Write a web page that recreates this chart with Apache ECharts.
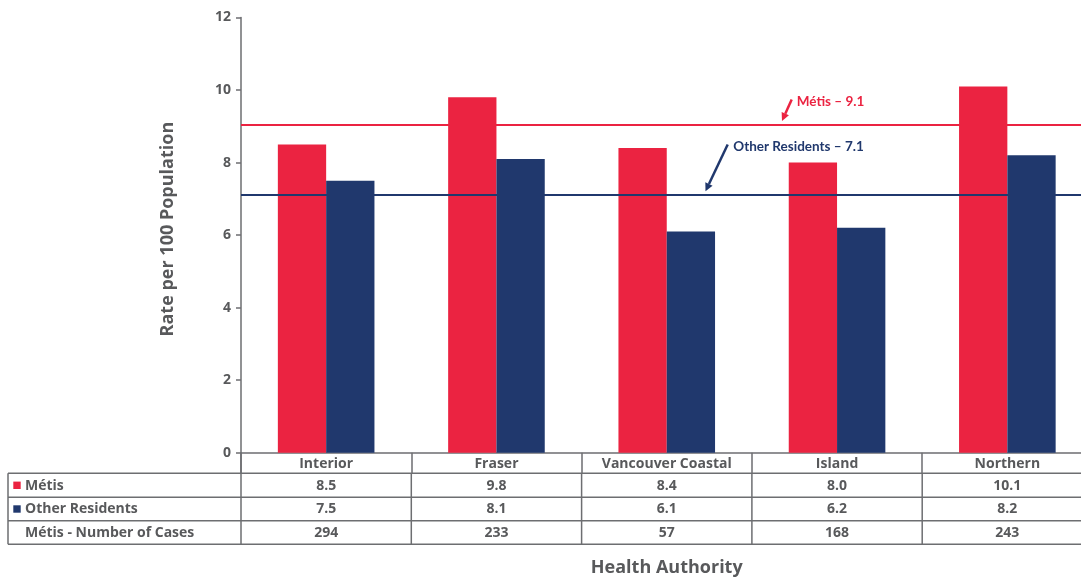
<!DOCTYPE html>
<html>
<head>
<meta charset="utf-8">
<script src="https://cdn.jsdelivr.net/npm/echarts@6/dist/echarts.min.js"></script>
<style>html,body{margin:0;padding:0;background:#fff;}#c{width:1081px;height:578px;}</style>
</head>
<body>
<div id="c"></div>
<script>
// ---- data ----
var categories = ['Interior', 'Fraser', 'Vancouver Coastal', 'Island', 'Northern'];
var metis = [8.5, 9.8, 8.4, 8.0, 10.1];
var others = [7.5, 8.1, 6.1, 6.2, 8.2];
var metisCases = [294, 233, 57, 168, 243];
var seriesNames = ['Métis', 'Other Residents'];
var tableRowNames = ['Métis', 'Other Residents', 'Métis - Number of Cases'];
var averages = [9.05, 7.1];
var averageLabels = ['Métis – 9.1', 'Other Residents – 7.1'];
var yTicks = [0, 2, 4, 6, 8, 10, 12];

// ---- style ----
var RED = '#EB2341';
var NAVY = '#20386D';
var GRAY = '#58595B';
var LINE = '#6D6E71';
var FONT = '"Open Sans", "DejaVu Sans", sans-serif';

var chart = echarts.init(document.getElementById('c'), null, {renderer: 'canvas'});

var option = {
  animation: false,
  backgroundColor: '#fff',
  grid: {left: 241, top: 17.5, height: 435.2, width: 851.5, containLabel: false, outerBoundsMode: 'none'},
  xAxis: {
    type: 'category',
    data: categories,
    axisLine: {lineStyle: {color: LINE, width: 1.5}},
    axisTick: {show: true, length: 20.5, lineStyle: {color: LINE, width: 1.5}},
    axisLabel: {color: GRAY, fontFamily: FONT, fontWeight: 'bold', fontSize: 14, margin: 4.5},
    name: 'Health Authority',
    nameLocation: 'middle',
    nameGap: 106,
    nameTextStyle: {color: GRAY, fontFamily: FONT, fontWeight: 'bold', fontSize: 18}
  },
  yAxis: {
    type: 'value',
    min: yTicks[0], max: yTicks[yTicks.length - 1], interval: 2,
    splitLine: {show: false},
    axisLine: {show: true, lineStyle: {color: LINE, width: 1.5}},
    axisTick: {show: true, length: 5, lineStyle: {color: LINE, width: 1.5}},
    axisLabel: {color: GRAY, fontFamily: FONT, fontWeight: 'bold', fontSize: 14, margin: 10},
    name: 'Rate per 100 Population',
    nameLocation: 'middle',
    nameRotate: 90,
    nameGap: 64,
    nameTextStyle: {color: GRAY, fontFamily: FONT, fontWeight: 'bold', fontSize: 18, padding: [0, 0, 0, 12]}
  },
  series: [
    {
      name: seriesNames[0], type: 'bar', data: metis, barWidth: 48.3, barGap: '0%',
      itemStyle: {color: RED},
      markLine: {
        silent: true, symbol: 'none', label: {show: false},
        lineStyle: {color: RED, width: 2, type: 'solid'},
        data: [{yAxis: averages[0]}]
      }
    },
    {
      name: seriesNames[1], type: 'bar', data: others, barWidth: 48.3, barGap: '0%',
      itemStyle: {color: NAVY},
      markLine: {
        silent: true, symbol: 'none', label: {show: false},
        lineStyle: {color: NAVY, width: 2, type: 'solid'},
        data: [{yAxis: averages[1]}]
      }
    }
  ]
};
chart.setOption(option);

function arrow(x1, y1, x2, y2, color) {
  var dx = x2 - x1, dy = y2 - y1, L = Math.sqrt(dx * dx + dy * dy);
  var ux = dx / L, uy = dy / L, px = -uy, py = ux;
  var hl = 8, hw = 4;
  var bx = x2 - ux * hl, by = y2 - uy * hl;
  return [
    {type: 'line', shape: {x1: x1, y1: y1, x2: bx, y2: by}, style: {stroke: color, lineWidth: 2.5}, z: 10},
    {type: 'polygon', shape: {points: [[x2, y2], [bx + px * hw, by + py * hw], [bx - px * hw, by - py * hw]]}, style: {fill: color}, z: 10}
  ];
}

function buildGraphics() {
  var g = [];
  var c0 = chart.convertToPixel({xAxisIndex: 0}, 0);
  var c1 = chart.convertToPixel({xAxisIndex: 0}, 1);
  var band = c1 - c0;
  var yAxisX = 241;
  var axisY = chart.convertToPixel({yAxisIndex: 0}, 0);
  var rowLines = [473.3, 497.3, 520.7, 544.3];
  var tableLeft = 8;
  var rightEnd = 1081;
  var textStyle = {fill: GRAY, font: 'bold 14px ' + FONT, textAlign: 'center', textVerticalAlign: 'middle'};
  rowLines.forEach(function (y) {
    g.push({type: 'line', shape: {x1: tableLeft, y1: y, x2: rightEnd, y2: y}, style: {stroke: LINE, lineWidth: 1.5}, z: 5});
  });
  g.push({type: 'line', shape: {x1: tableLeft, y1: rowLines[0], x2: tableLeft, y2: rowLines[3]}, style: {stroke: LINE, lineWidth: 1.5}, z: 5});
  g.push({type: 'line', shape: {x1: yAxisX, y1: axisY, x2: yAxisX, y2: rowLines[3]}, style: {stroke: LINE, lineWidth: 1.5}, z: 5});
  for (var i = 0; i < categories.length; i++) {
    var cx = chart.convertToPixel({xAxisIndex: 0}, i);
    var bx = cx + band / 2;
    g.push({type: 'line', shape: {x1: bx, y1: rowLines[0], x2: bx, y2: rowLines[3]}, style: {stroke: LINE, lineWidth: 1.5}, z: 5});
    var rows = [metis[i].toFixed(1), others[i].toFixed(1), String(metisCases[i])];
    for (var r = 0; r < 3; r++) {
      g.push({type: 'text', style: Object.assign({}, textStyle, {text: rows[r], x: cx, y: (rowLines[r] + rowLines[r + 1]) / 2 + 0.5}), z: 6});
    }
  }
  var colors = [RED, NAVY, null];
  for (var r = 0; r < 3; r++) {
    var ym = (rowLines[r] + rowLines[r + 1]) / 2;
    if (colors[r]) {
      g.push({type: 'rect', shape: {x: 13.3, y: ym - 3.7, width: 7.4, height: 7.4}, style: {fill: colors[r]}, z: 6});
    }
    g.push({type: 'text', style: {text: tableRowNames[r], x: 25, y: ym + 0.5, fill: GRAY, font: 'bold 14px ' + FONT, textAlign: 'left', textVerticalAlign: 'middle'}, z: 6});
  }
  var annFont = 'bold 13.5px Lato, "Open Sans", sans-serif';
  var yM = chart.convertToPixel({yAxisIndex: 0}, averages[0]);
  var yO = chart.convertToPixel({yAxisIndex: 0}, averages[1]);
  g = g.concat(arrow(791.7, yM - 25, 782, yM - 3.5, RED));
  g.push({type: 'text', style: {text: averageLabels[0], x: 796.7, y: yM - 22.6, fill: RED, font: annFont, textAlign: 'left', textVerticalAlign: 'middle'}, z: 10});
  g = g.concat(arrow(727.7, yO - 50.7, 705.5, yO - 4, NAVY));
  g.push({type: 'text', style: {text: averageLabels[1], x: 733.3, y: yO - 49, fill: NAVY, font: annFont, textAlign: 'left', textVerticalAlign: 'middle'}, z: 10});
  chart.setOption({graphic: {elements: g}});
}
buildGraphics();
</script>
</body>
</html>
